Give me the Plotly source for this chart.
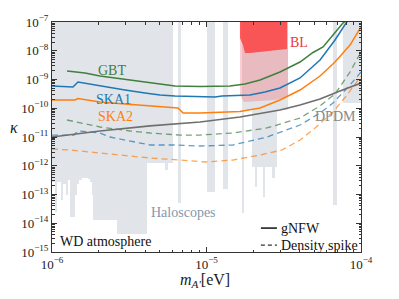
import plotly.graph_objects as go

# ---------------- data (mass in eV, kappa) ----------------
TOP = 1e-7

# Haloscope excluded region: lower edge of the filled band (step-wise, left edges)
halo_mass = [1.0e-6, 1.046e-6, 1.077e-6, 1.144e-6, 1.178e-6, 1.232e-6, 1.269e-6, 1.308e-6,
             1.409e-6, 1.451e-6, 1.495e-6, 1.564e-6, 1.710e-6, 1.762e-6, 1.815e-6, 1.843e-6,
             2.634e-6, 4.120e-6, 5.387e-6, 5.633e-6, 6.070e-6, 6.540e-6, 6.839e-6, 1.007e-5,
             1.135e-5, 1.279e-5, 1.378e-5, 1.697e-5, 1.748e-5, 1.970e-5, 2.060e-5, 2.123e-5,
             2.321e-5, 2.391e-5, 2.654e-5, 2.776e-5, 2.860e-5, 3.370e-5, 6.589e-5, 6.995e-5,
             7.644e-5]
halo_kappa_low = [2.72e-13, 2.46e-14, 2.72e-13, 6.44e-14, 2.32e-13, 9.61e-14, 3.19e-13, 1.65e-14,
                  9.61e-14, 2.32e-13, 3.19e-13, 3.75e-13, 3.46e-13, 2.72e-13, 9.61e-14, 1.30e-14,
                  4.23e-15, 1.25e-12, 7.11e-13, 1.25e-12, 1e-7, 5.06e-14, 1e-7, 1.22e-13,
                  1e-7, 1.55e-13, 1e-7, 2.27e-14, 8.69e-11, 9.06e-13, 1.82e-13, 9.06e-13,
                  8.19e-14, 9.06e-13, 3.75e-13, 9.06e-13, 8.69e-11, 1e-7, 4.31e-14, 1e-7,
                  1.52e-10]

# BL region
bl_light_mass = [1.647e-5, 1.748e-5, 2.22e-5, 2.776e-5, 3.37e-5]
bl_light_kappa = [2.89e-10, 1.65e-10, 1.79e-10, 1.94e-10, 2.46e-10]
bl_dark_mass = [1.647e-5, 1.722e-5, 1.775e-5, 1.912e-5, 2.22e-5, 2.576e-5, 2.99e-5, 3.32e-5]
bl_dark_kappa = [2.77e-8, 1.58e-8, 8.36e-9, 8.36e-9, 9.06e-9, 9.80e-9, 1.06e-8, 1.15e-8]

# gNFW (solid)
gbt_mass = [1.251e-6, 1.635e-6, 2.045e-6, 3.198e-6, 4.307e-6, 6.253e-6, 9.08e-6, 1.419e-5,
            1.775e-5, 2.22e-5, 2.576e-5, 2.99e-5, 3.47e-5, 4.03e-5, 4.89e-5, 5.68e-5, 6.59e-5,
            7.64e-5, 8.12e-5]
gbt_kappa = [1.98e-9, 1.68e-9, 1.32e-9, 9.61e-10, 7.55e-10, 5.94e-10, 5.71e-10, 5.94e-10,
             6.97e-10, 9.61e-10, 1.32e-9, 1.82e-9, 2.72e-9, 4.06e-9, 8.69e-9, 1.35e-8, 3.53e-8,
             9.23e-8, 1.17e-7]

ska1_mass = [1.0e-6, 1.367e-6, 1.473e-6, 1.898e-6, 2.373e-6, 2.969e-6, 3.999e-6, 5.0e-6,
             6.253e-6, 9.08e-6, 1.135e-5, 1.259e-5, 1.912e-5, 2.391e-5, 2.99e-5, 4.03e-5,
             5.43e-5, 6.79e-5, 8.24e-5]
ska1_kappa = [5.94e-10, 5.48e-10, 8.18e-10, 6.44e-10, 5.06e-10, 4.31e-10, 3.39e-10, 2.89e-10,
              2.67e-10, 2.46e-10, 2.46e-10, 2.67e-10, 2.89e-10, 3.67e-10, 5.06e-10, 1.13e-9,
              4.77e-9, 2.37e-8, 1.17e-7]

ska2_mass = [1.0e-6, 1.409e-6, 1.473e-6, 2.045e-6, 2.969e-6, 4.307e-6, 6.54e-6, 7.05e-6,
             9.08e-6, 1.647e-5, 2.22e-5, 2.99e-5, 4.03e-5, 5.43e-5, 6.79e-5, 8.49e-5, 1.0e-4]
ska2_kappa = [1.94e-10, 1.94e-10, 2.18e-10, 1.65e-10, 1.41e-10, 1.20e-10, 1.02e-10, 6.84e-11,
              6.84e-11, 7.71e-11, 1.02e-10, 1.94e-10, 4.31e-10, 1.32e-9, 4.06e-9, 1.58e-8, 6.70e-8]

dpdm_mass = [1.0e-6, 2.045e-6, 4.307e-6, 9.08e-6, 1.647e-5, 2.463e-5, 2.99e-5, 4.03e-5,
             5.43e-5, 7.31e-5, 1.0e-4]
dpdm_kappa = [1.0e-11, 1.62e-11, 2.42e-11, 3.33e-11, 4.97e-11, 7.41e-11, 8.69e-11, 1.30e-10,
              2.10e-10, 3.98e-10, 7.55e-10]

# Density spike (dashed)
gbt_spike_mass = [1.251e-6, 2.045e-6, 3.198e-6, 4.307e-6, 6.74e-6, 9.08e-6, 1.484e-5, 2.463e-5,
                  4.03e-5, 5.43e-5, 6.79e-5, 8.49e-5, 1.0e-4]
gbt_spike_kappa = [3.90e-11, 2.23e-11, 1.62e-11, 1.38e-11, 1.17e-11, 1.17e-11, 1.38e-11, 2.06e-11,
                   4.58e-11, 1.20e-10, 3.13e-10, 1.82e-9, 9.06e-9]

ska1_spike_mass = [1.0e-6, 1.388e-6, 1.473e-6, 2.045e-6, 2.373e-6, 3.344e-6, 4.307e-6, 6.253e-6,
                   9.08e-6, 1.484e-5, 2.463e-5, 4.03e-5, 5.43e-5, 6.59e-5, 8.49e-5, 1.0e-4]
ska1_spike_kappa = [1.17e-11, 1.17e-11, 1.62e-11, 1.38e-11, 1.0e-11, 6.70e-12, 5.27e-12, 5.27e-12,
                    4.86e-12, 5.27e-12, 1.0e-11, 2.61e-11, 6.84e-11, 1.52e-10, 6.44e-10, 1.82e-9]

ska2_spike_mass = [1.0e-6, 1.308e-6, 2.045e-6, 4.307e-6, 6.74e-6, 9.78e-6, 1.484e-5, 2.22e-5,
                   3.08e-5, 4.03e-5, 5.04e-5, 6.59e-5, 8.12e-5, 1.0e-4]
ska2_spike_kappa = [3.83e-12, 3.53e-12, 2.77e-12, 1.86e-12, 1.58e-12, 1.35e-12, 1.58e-12, 2.37e-12,
                    3.53e-12, 7.87e-12, 2.06e-11, 7.41e-11, 2.89e-10, 1.32e-9]

x_tick_vals = [1e-6, 1e-5, 1e-4]
x_tick_text = ["10<sup>−6</sup>", "10<sup>−5</sup>", "10<sup>−4</sup>"]
y_tick_vals = [1e-15, 1e-14, 1e-13, 1e-12, 1e-11, 1e-10, 1e-9, 1e-8, 1e-7]
y_tick_text = ["10<sup>−15</sup>", "10<sup>−14</sup>", "10<sup>−13</sup>", "10<sup>−12</sup>",
               "10<sup>−11</sup>", "10<sup>−10</sup>", "10<sup>−9</sup>", "10<sup>−8</sup>",
               "10<sup>−7</sup>"]

# ---------------- styling ----------------
FONT = "Liberation Serif"
C_GRAY = "#e1e5ea"
C_GREEN = "#3f7f3f"
C_BLUE = "#1f77b4"
C_ORANGE = "#ff7f0e"
C_DPDM = "#6f6f6f"

fig = go.Figure()

# haloscope band
fig.add_trace(go.Scatter(
    x=[halo_mass[0]] + halo_mass + [1e-4],
    y=[TOP] + halo_kappa_low + [TOP],
    mode="lines", line=dict(width=0, shape="hv"),
    fill="toself", fillcolor=C_GRAY, hoverinfo="skip", showlegend=False))

# BL light
fig.add_trace(go.Scatter(
    x=[bl_light_mass[0]] + bl_light_mass + [bl_light_mass[-1]],
    y=[TOP] + bl_light_kappa + [TOP],
    mode="lines", line=dict(width=0),
    fill="toself", fillcolor="rgba(250,90,100,0.30)", hoverinfo="skip", showlegend=False))

# BL dark
fig.add_trace(go.Scatter(
    x=[bl_dark_mass[0]] + bl_dark_mass + [bl_dark_mass[-1]],
    y=[TOP] + bl_dark_kappa + [TOP],
    mode="lines", line=dict(width=0),
    fill="toself", fillcolor="rgba(255,45,45,0.72)", hoverinfo="skip", showlegend=False))

def add_line(x, y, color, dash="solid", width=1.5, opacity=1.0):
    fig.add_trace(go.Scatter(x=x, y=y, mode="lines",
                             line=dict(color=color, width=width, dash=dash),
                             opacity=opacity, hoverinfo="skip", showlegend=False))

add_line(gbt_spike_mass, gbt_spike_kappa, C_GREEN, dash="6px,4px", width=1.3, opacity=0.7)
add_line(ska1_spike_mass, ska1_spike_kappa, C_BLUE, dash="6px,4px", width=1.3, opacity=0.7)
add_line(ska2_spike_mass, ska2_spike_kappa, C_ORANGE, dash="6px,4px", width=1.3, opacity=0.7)
add_line(dpdm_mass, dpdm_kappa, C_DPDM, width=1.7)
add_line(gbt_mass, gbt_kappa, C_GREEN, width=1.5)
add_line(ska1_mass, ska1_kappa, C_BLUE, width=1.5)
add_line(ska2_mass, ska2_kappa, C_ORANGE, width=1.5)

axis_common = dict(
    type="log", showgrid=False, zeroline=False, showline=True, linecolor="#333333",
    linewidth=1, mirror="allticks", ticks="inside", ticklen=5, tickwidth=0.8,
    tickcolor="#333333", tickmode="array", automargin=False,
    tickfont=dict(family=FONT, size=13, color="#222222"),
    minor=dict(ticks="inside", ticklen=2.5, tickwidth=0.6, tickcolor="#333333",
               dtick="D1", showgrid=False),
)

# page body has an 8px default margin -> figure is 8px smaller, margins shifted by 8px
fig.update_layout(
    width=391, height=291,
    margin=dict(l=44, r=38, t=14, b=47),
    paper_bgcolor="white", plot_bgcolor="white",
    font=dict(family=FONT, size=13, color="#222222"),
    xaxis=dict(axis_common, range=[-6, -4], tickvals=x_tick_vals, ticktext=x_tick_text),
    yaxis=dict(axis_common, range=[-15, -7], tickvals=y_tick_vals, ticktext=y_tick_text),
    showlegend=False,
)

def label(text, x, y, color, size=13, xanchor="center"):
    fig.add_annotation(text=text, x=x, y=y, xref="paper", yref="paper", showarrow=False,
                       xanchor=xanchor, yanchor="middle",
                       font=dict(family=FONT, size=size, color=color))

label("GBT", 0.194, 0.787, C_GREEN, size=14)
label("SKA1", 0.200, 0.665, C_BLUE, size=14)
label("SKA2", 0.204, 0.587, C_ORANGE, size=14)
label("BL", 0.799, 0.913, "#e83a3f", size=14)
label("DPDM", 0.916, 0.587, "#888888", size=14)
label("Haloscopes", 0.424, 0.170, "#8597ae", size=14)
label("WD atmosphere", 0.172, 0.045, "#111111", size=14)
label("gNFW", 0.735, 0.104, "#111111", size=14, xanchor="left")
label("Density spike", 0.735, 0.030, "#111111", size=14, xanchor="left")
label("<i>κ</i>", -0.1424, 0.543, "#222222", size=16, xanchor="left")
label("<i>m</i><sub><i>A′</i></sub>[eV]", 0.496, -0.122, "#222222", size=16)

# legend samples
fig.add_shape(type="line", xref="paper", yref="paper", x0=0.676, x1=0.728, y0=0.104, y1=0.104,
              line=dict(color="#111111", width=1.5))
fig.add_shape(type="line", xref="paper", yref="paper", x0=0.676, x1=0.728, y0=0.030, y1=0.030,
              line=dict(color="#333333", width=1.3, dash="4px,3px"))

fig.write_html("out.html")
